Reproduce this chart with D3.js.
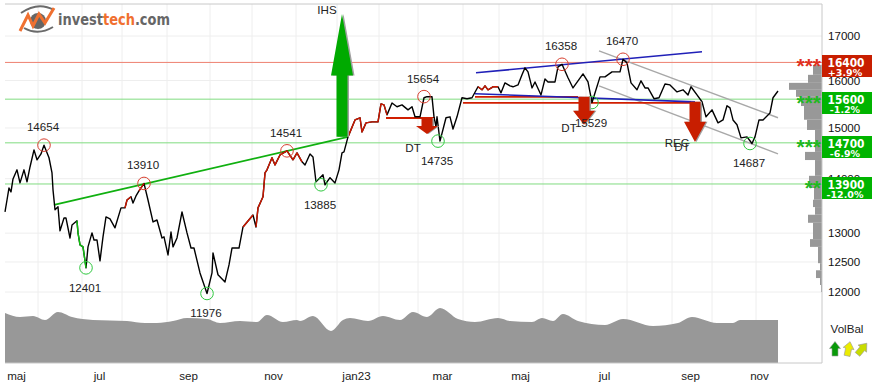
<!DOCTYPE html>
<html>
<head>
<meta charset="utf-8">
<script src="https://cdn.jsdelivr.net/npm/d3@7"></script>
<style>
  html, body { margin: 0; padding: 0; background: #fff; }
  svg { display: block; }
  text { font-family: "Liberation Sans", Arial, sans-serif; font-size: 11.6px; fill: #222; }
</style>
</head>
<body>
<script>
// price series, x is trading day counted from the left edge
const days = [0,1,2,3,4,6,7.5,9.5,11,12.5,14.5,16,18,19.5,22,23.5,24,25,26.5,27.5,29.5,30.5,32.5,33.5,36,36.5,37.5,39,40.5,41.5,43.5,44.5,46,47.5,49,50.5,52.5,55,58,60,61,63,64,65.5,67,69.5,71.5,74,76,78.5,79.5,81.5,83,84,86,88.5,91,93,94.5,97.5,101,103.5,104,106.5,110,112,113.5,117,119,124,125.5,126.5,129,130,131,133.5,135,137.5,141,144,146,148.5,150,152.5,154,155.5,159,160,162.5,165,167,168.5,169.5,171.5,175,177.5,178.5,180.5,183.5,186.5,188,189.5,191,193.5,196,198.5,201.5,203.5,205,207.5,209.5,211,213.5,214.5,215.5,216,217.5,220.5,222.5,224,226,228.5,231,233.5,236.5,238.5,240,241.5,244,246.5,248,250,252.5,254,256.5,258.5,260,261.5,263.5,265,268,270,271.5,275,276.5,278.5,281.5,284,289,291.5,293.5,297.5,300,303.5,307.5,309,311,313,316,318,320,321.5,324.5,327,330,332.5,336,339,341.5,343,346,348.5,350.5,353.5,356.5,359,361,362.5,364,366,368,371,373.5,375,377,379,382.5,384,386.5];
const closes = [13381,13600,13825,13750,13995,14170,13920,14170,13940,14225,14560,14365,14480,14654,14405,14110,13790,13420,13475,13040,13270,13270,12915,13145,13220,13005,12795,12760,12401,12760,13005,12880,12880,12520,12935,13290,13255,13095,13455,13455,13600,13660,13545,13675,13770,13910,13600,13200,13235,12915,12935,12620,13020,12760,12915,13380,13005,12740,12740,12315,11976,12315,12655,12285,12165,12450,12740,12740,13110,13325,13110,13455,13660,14110,14170,14405,14265,14460,14541,14365,14500,14325,14265,14480,14420,13940,14075,13885,14020,13920,14170,14500,14520,14820,15165,15210,14920,15105,15125,15125,15500,15480,15270,15520,15440,15480,15375,15440,15230,15230,15630,15654,15650,15230,15025,15230,14735,15210,15230,14980,15230,15630,15610,15630,15865,15800,15885,15800,15865,15865,15735,15950,15885,15865,15905,16125,16280,16190,15840,15970,15690,16035,15970,15970,16300,16358,16060,15840,16145,15970,15529,16080,16080,16190,16190,16470,16390,15950,15800,15995,15840,15840,15610,15630,15925,15905,15755,15800,15690,15865,15690,15545,15230,15375,15105,15165,15460,15415,15165,15065,14800,14820,14687,14820,15165,15165,15310,15630,15775];

// stretches of the price line that are coloured
const redStretches = [[60,63],[67,69.5],[119,124],[125.5,148.5],[171.5,191],[236.5,246.5]];
const greenStretches = [[36,40.5]];

const volDays = [0,7.5,14,20,26.5,33.5,44,61,70,76,84,91,101,107.5,117.5,126,131,139,146,147.5,154,163,169,172.5,181.5,189,197.5,204,211,217.5,226.5,235,246.5,252.5,263.5,268.5,274,279,286.5,300,309,324,336.5,343.5,356,364,367.5,386.5];
const volumes = [50,46,47,43,51,46,43,42,40,40,42,45,44,40,42,41,48,41,43,42,47,32,43,45,42,47,43,51,46,55,44,41,45,42,41,45,42,49,42,38,44,37,40,46,40,40,43,43];

const monthStartDays = [16.5,38.5,58.5,81,102.5,123.5,145.5,166,187,206.5,229,247,269,290.5,311,333.5,353.5,375.5];
const monthLabels = ["maj","jul","sep","nov","jan23","mar","maj","jul","sep","nov"];
const monthLabelDays = [5.5,47,91.5,134,175.5,218.5,257.5,299.5,342.5,377];

const priceTicks = [17000,16000,15000,14000,13000,12500,12000];

// support and resistance levels
const levels = [16400,15600,14700,13900];
const levelChange = ["+3.9%","-1.2%","-6.9%","-12.0%"];
const levelKind = ["res","sup","sup","sup"];
const levelStars = ["***","***","***","**"];

// volume profile on the right: bin edges and size of each bin
const binEdges = [16345,16125,15950,15800,15650,15455,15170,14960,14520,14360,14055,13825,13605,13470,13330,13185,12895,12760,12480,12360,12230,12115,12000];
const binSizes = [9,14,33,26,21,18,15,7,17,7,13,8,9,7,14,9,12,4,2,6,2,1];

// tops and bottoms
const pivotDays = [19.5,69.5,141,209.5,278.5,309,40.5,101,158,216.5,293.5,372.5];
const pivotPrices = [14654,13910,14541,15654,16358,16470,12401,11976,13885,14735,15529,14687];
const pivotKind = ["top","top","top","top","top","top","low","low","low","low","low","low"];

// trend lines: from day, from price, to day, to price
const greenTrend = [[24.5,13510,171.5,14820]];
const blueTrends = [[235.5,16170,348.5,16640],[235,15715,345,15543]];
const redTrends = [[190.5,15205,215,15205],[235,15650,286.5,15650],[229,15520,347.5,15520]];
const grayTrends = [[297,16660,386.5,15210],[297,15885,386.5,14480]];

// signal arrows
const arrowDays = [168.5,211,289.5,345];
const arrowFrom = [14820,15205,15650,15543];
const arrowTo = [17517,14880,15065,14719];
const arrowKind = ["buy","sell","sell","sell"];
const signalNames = ["IHS","DT","DT","REC","DT"];
const signalDays = [161,204,282,336,338.5];
const signalPrices = [17517,14515,14925,14610,14530];

const volBalTurn = [0,12,40];
const volBalColors = ["#0a9a0a","#ecec00","#c8dc00"];

const w = 872, h = 383;
const plotLeft = 5, plotRight = 822, plotTop = 4, plotBottom = 363;

const xScale = d3.scaleLinear().domain([0, 386.5]).range([plotLeft, 778]);
const yScale = d3.scaleLog().domain([12000, 17000]).range([292, 36]);
const volScale = d3.scaleLinear().domain([0, 100]).range([plotBottom, plotBottom - 100]);
const binScale = d3.scaleLinear().domain([0, 33]).range([plotRight, 789]);

const red = "#c81e00", green = "#00b400";

const svg = d3.select("body").append("svg").attr("width", w).attr("height", h);

// grid
svg.append("g").selectAll("line")
    .data(monthStartDays).enter().append("line")
    .attr("x1", d => xScale(d)).attr("x2", d => xScale(d))
    .attr("y1", plotTop).attr("y2", plotBottom)
    .attr("stroke", "#eeeeee");
svg.append("g").selectAll("line")
    .data(priceTicks).enter().append("line")
    .attr("x1", plotLeft).attr("x2", plotRight)
    .attr("y1", d => yScale(d)).attr("y2", d => yScale(d))
    .attr("stroke", "#eeeeee");

// volume area
const area = d3.area()
    .x((d, i) => xScale(volDays[i]))
    .y0(plotBottom)
    .y1(d => volScale(d))
    .curve(d3.curveMonotoneX);
svg.append("path").datum(volumes).attr("d", area).attr("fill", "#989898");

// volume profile
svg.append("g").selectAll("rect")
    .data(binSizes).enter().append("rect")
    .attr("x", d => binScale(d))
    .attr("width", d => plotRight - binScale(d))
    .attr("y", (d, i) => yScale(binEdges[i]))
    .attr("height", (d, i) => yScale(binEdges[i + 1]) - yScale(binEdges[i]))
    .attr("fill", "#989898");

// frame
svg.append("path")
    .attr("d", `M${plotLeft},${plotTop}H${plotRight}V${plotBottom}H${plotLeft}`)
    .attr("fill", "none").attr("stroke", "#c8c8c8").attr("stroke-width", 1);

// level lines
svg.append("g").selectAll("line")
    .data(levels).enter().append("line")
    .attr("x1", plotLeft).attr("x2", plotRight)
    .attr("y1", d => yScale(d)).attr("y2", d => yScale(d))
    .attr("stroke", (d, i) => levelKind[i] == "res" ? "#ee8070" : "#80dc80");

// axes
const yAxis = d3.axisRight(yScale).tickValues(priceTicks).tickSize(0).tickPadding(6).tickFormat(d3.format("d"));
const gy = svg.append("g").attr("transform", `translate(${plotRight},0)`).call(yAxis);
gy.select(".domain").remove();
gy.selectAll("text").style("font-size", "11.6px").style("font-family", '"Liberation Sans"').style("fill", "#111");

const labelScale = d3.scaleOrdinal().domain(monthLabelDays).range(monthLabelDays.map(d => xScale(d)));
const xAxis = d3.axisBottom(labelScale).tickValues(monthLabelDays).tickSize(0).tickPadding(0)
    .tickFormat((d, i) => monthLabels[i]);
const gx = svg.append("g").attr("transform", `translate(0,${plotBottom + 1})`).call(xAxis);
gx.select(".domain").remove();
gx.selectAll("text").style("font-size", "11.6px").style("font-family", '"Liberation Sans"').style("fill", "#222").attr("y", 8);

// trend lines
function trendLines(rows, colour, width) {
    svg.append("g").selectAll("line")
        .data(rows).enter().append("line")
        .attr("x1", d => xScale(d[0])).attr("y1", d => yScale(d[1]))
        .attr("x2", d => xScale(d[2])).attr("y2", d => yScale(d[3]))
        .attr("stroke", colour).attr("stroke-width", width);
}
trendLines(grayTrends, "#a8a8a8", 1.4);
trendLines(redTrends, "#d01e00", 1.8);
trendLines(greenTrend, "#10b010", 1.6);
trendLines(blueTrends, "#2020b8", 1.6);

// price line with coloured parts on top
const points = days.map((d, i) => [d, closes[i]]);
const line = d3.line().x(d => xScale(d[0])).y(d => yScale(d[1]));
svg.append("path").datum(points).attr("d", line)
    .attr("fill", "none").attr("stroke", "#000").attr("stroke-width", 1.4).attr("stroke-linejoin", "round");

function stretches(rows, colour) {
    rows.forEach(r => {
        svg.append("path")
            .datum(points.filter(p => p[0] >= r[0] && p[0] <= r[1]))
            .attr("d", line)
            .attr("fill", "none").attr("stroke", colour).attr("stroke-width", 1.4).attr("stroke-linejoin", "round");
    });
}
stretches(redStretches, "#cc1800");
stretches(greenStretches, "#10c010");

// pivots
svg.append("g").selectAll("circle")
    .data(pivotDays).enter().append("circle")
    .attr("cx", d => xScale(d))
    .attr("cy", (d, i) => yScale(pivotPrices[i]))
    .attr("r", 6.3)
    .attr("fill", "none")
    .attr("stroke", (d, i) => pivotKind[i] == "top" ? "#d84030" : "#30c840")
    .attr("stroke-width", 1);

// arrows sit over the line and the circles, under the texts
function arrowPath(d, i) {
    const x = xScale(d);
    const y0 = yScale(arrowFrom[i]), y1 = yScale(arrowTo[i]);
    const mid = (y0 + y1) / 2;
    return `M${x - 5.5},${y0}L${x + 5.5},${y0}L${x + 5.5},${mid}L${x + 11},${mid}L${x},${y1}L${x - 11},${mid}L${x - 5.5},${mid}Z`;
}
svg.append("g").selectAll("path")
    .data(arrowDays).enter().append("path")
    .attr("d", arrowPath)
    .attr("transform", "translate(1.5,0)")
    .attr("fill", "#a0a0a0");
svg.append("g").selectAll("path")
    .data(arrowDays).enter().append("path")
    .attr("d", arrowPath)
    .attr("fill", (d, i) => arrowKind[i] == "buy" ? "#00aa00" : red);

svg.append("g").selectAll("text")
    .data(pivotDays).enter().append("text")
    .attr("x", d => xScale(d) - 1)
    .attr("y", (d, i) => yScale(pivotPrices[i]) + (pivotKind[i] == "top" ? -14 : 24))
    .attr("text-anchor", "middle")
    .text((d, i) => pivotPrices[i]);

// signal names
svg.append("g").selectAll("text")
    .data(signalNames).enter().append("text")
    .attr("x", (d, i) => xScale(signalDays[i]))
    .attr("y", (d, i) => yScale(signalPrices[i]))
    .attr("text-anchor", "middle")
    .text(d => d);

// stars on the levels
svg.append("g").selectAll("text")
    .data(levels).enter().append("text")
    .attr("x", plotRight - 1)
    .attr("y", d => yScale(d) + 11)
    .attr("text-anchor", "end")
    .style("font-size", "21px")
    .style("font-weight", "bold")
    .style("fill", (d, i) => levelKind[i] == "res" ? "#e03020" : "#20b820")
    .text((d, i) => levelStars[i]);

// level boxes
const boxes = svg.append("g").selectAll("g")
    .data(levels).enter().append("g")
    .attr("transform", d => `translate(${plotRight},${Math.round(yScale(d)) - 7})`);
boxes.append("rect")
    .attr("width", w - plotRight).attr("height", 22)
    .attr("fill", (d, i) => levelKind[i] == "res" ? red : green);
boxes.append("text")
    .attr("x", 24).attr("y", 12)
    .attr("text-anchor", "middle")
    .style("font-family", '"DejaVu Sans"').style("font-size", "12px").style("font-weight", "bold").style("fill", "#fff")
    .attr("textLength", 37)
    .attr("lengthAdjust", "spacingAndGlyphs")
    .text(d => d);
boxes.append("text")
    .attr("x", 23).attr("y", 20.5)
    .attr("text-anchor", "middle")
    .style("font-family", '"DejaVu Sans"').style("font-size", "9.5px").style("font-weight", "bold").style("fill", "#fff")
    .text((d, i) => levelChange[i]);

// VolBal
svg.append("text").attr("x", 847).attr("y", 333).attr("text-anchor", "middle").text("VolBal");
svg.append("g").selectAll("path")
    .data(volBalTurn).enter().append("path")
    .attr("d", "M0,-7.5L5.5,-0.5L3,-0.5L3,7L-3,7L-3,-0.5L-5.5,-0.5Z")
    .attr("transform", (d, i) => `translate(${835 + i * 13.5},349) rotate(${d})`)
    .attr("fill", (d, i) => volBalColors[i])
    .attr("stroke", "#9a9a9a").attr("stroke-width", 0.6);

// logo
const logo = svg.append("g");
logo.append("path").attr("d", "M21,13Q38,1 54,10").attr("fill", "none").attr("stroke", "#6a6a6a").attr("stroke-width", 2);
logo.append("path").attr("d", "M24,28Q38,36 53,27").attr("fill", "none").attr("stroke", "#6a6a6a").attr("stroke-width", 2);
logo.append("circle").attr("cx", 38).attr("cy", 21).attr("r", 8).attr("fill", "#666");
logo.append("path").attr("d", "M20,31L28,15L33,26L39,14L45,23L54,8").attr("fill", "none").attr("stroke", "#f07030").attr("stroke-width", 3);
const logoText = logo.append("text").attr("x", 58).attr("y", 25)
    .attr("textLength", 112).attr("lengthAdjust", "spacingAndGlyphs")
    .style("font-family", '"DejaVu Sans"').style("font-size", "16px").style("font-weight", "bold");
logoText.append("tspan").style("fill", "#666").style("font-size", "16px").text("invest");
logoText.append("tspan").style("fill", "#f07030").style("font-size", "16px").text("tech");
logoText.append("tspan").style("fill", "#666").style("font-size", "16px").text(".com");
</script>
</body>
</html>
